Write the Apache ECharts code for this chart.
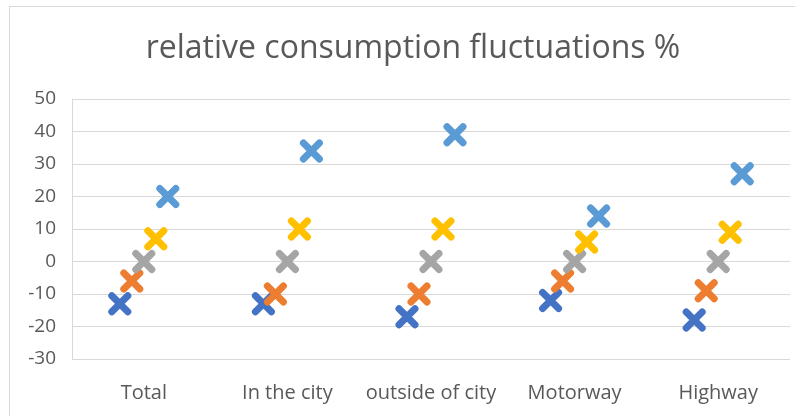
<!DOCTYPE html>
<html>
<head>
<meta charset="utf-8">
<script src="https://cdn.jsdelivr.net/npm/echarts@6/dist/echarts.min.js"></script>
<style>
  html, body { margin: 0; padding: 0; background: #fff; }
  #main { width: 795px; height: 416px; }
  .frame { position: absolute; left: 9px; top: 6px; width: 800px; height: 420px; border: 1px solid #d9d9d9; pointer-events: none; }
</style>
</head>
<body>
<div id="main"></div>
<div class="frame"></div>
<script>
  // categories along the x axis
  var categories = ['Total', 'In the city', 'outside of city', 'Motorway', 'Highway'];
  // five marker series
  var seriesA = [-13, -13, -17, -12, -18];
  var seriesB = [-6, -10, -10, -6, -9];
  var seriesC = [0, 0, 0, 0, 0];
  var seriesD = [7, 10, 10, 6, 9];
  var seriesE = [20, 34, 39, 14, 27];
  var yTicks = { min: -30, max: 50, interval: 10 };

  var colors = ['#4472C4', '#ED7D31', '#A5A5A5', '#FFC000', '#5B9BD5'];
  var allData = [seriesA, seriesB, seriesC, seriesD, seriesE];
  var offsets = [-24, -12, 0, 12, 24];

  // X marker made of two strokes
  var crossPath = 'path://M0,0L10,10M10,0L0,10';

  var series = [];
  for (var i = 0; i < allData.length; i++) {
    series.push({
      type: 'scatter',
      data: allData[i],
      symbol: crossPath,
      symbolSize: 16,
      symbolOffset: [offsets[i], 0],
      itemStyle: {
        color: 'none',
        opacity: 1,
        borderColor: colors[i],
        borderWidth: 7,
        borderCap: 'round'
      },
      emphasis: { disabled: true }
    });
  }

  var option = {
    animation: false,
    title: {
      text: 'relative consumption fluctuations %',
      left: 408,
      textAlign: 'center',
      top: 28,
      textStyle: {
        fontFamily: 'Open Sans',
        fontWeight: 'normal',
        fontSize: 32,
        color: '#595959'
      }
    },
    grid: { left: 72, right: 5, top: 99, bottom: 57 },
    xAxis: {
      type: 'category',
      data: categories,
      axisLine: { show: false },
      axisTick: { show: false },
      axisLabel: { interval: 0, color: '#595959', fontSize: 20, fontFamily: 'Open Sans', margin: 24 },
      splitLine: { show: false }
    },
    yAxis: {
      type: 'value',
      min: yTicks.min,
      max: yTicks.max,
      interval: yTicks.interval,
      axisLine: { show: true, lineStyle: { color: '#d9d9d9', width: 1 } },
      axisTick: { show: false },
      axisLabel: { color: '#595959', fontSize: 19, fontFamily: 'Open Sans', margin: 16 },
      splitLine: { lineStyle: { color: '#d9d9d9', width: 1 } }
    },
    series: series
  };

  var myChart = echarts.init(document.getElementById('main'));
  myChart.setOption(option);
</script>
</body>
</html>
